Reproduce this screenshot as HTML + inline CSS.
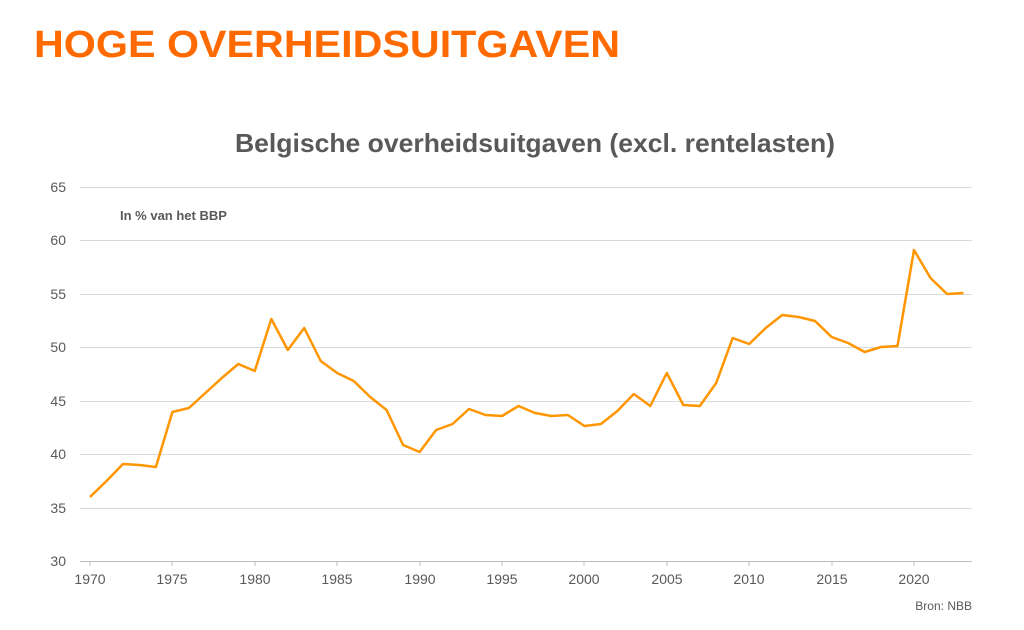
<!DOCTYPE html>
<html><head><meta charset="utf-8"><style>
body{margin:0;background:#fff;width:1024px;height:625px;overflow:hidden;font-family:"Liberation Sans",sans-serif}
</style></head><body>
<svg width="1024" height="625" xmlns="http://www.w3.org/2000/svg" font-family="Liberation Sans, sans-serif">
<text x="34" y="57" font-size="38" font-weight="bold" fill="#ff6a00" textLength="586" lengthAdjust="spacingAndGlyphs">HOGE OVERHEIDSUITGAVEN</text>
<text x="535" y="152" font-size="26" font-weight="bold" fill="#595959" text-anchor="middle" textLength="600" lengthAdjust="spacingAndGlyphs">Belgische overheidsuitgaven (excl. rentelasten)</text>
<text x="120" y="220" font-size="13" font-weight="bold" fill="#595959">In % van het BBP</text>
<g stroke="#d9d9d9" stroke-width="1">
<line x1="80" x2="972" y1="187.5" y2="187.5"/><line x1="80" x2="972" y1="240.5" y2="240.5"/>
<line x1="80" x2="972" y1="294.5" y2="294.5"/><line x1="80" x2="972" y1="347.5" y2="347.5"/>
<line x1="80" x2="972" y1="401.5" y2="401.5"/><line x1="80" x2="972" y1="454.5" y2="454.5"/>
<line x1="80" x2="972" y1="508.5" y2="508.5"/>
</g>
<line x1="80" x2="972" y1="561.5" y2="561.5" stroke="#bfbfbf"/>
<g stroke="#bfbfbf"><line x1="90" x2="90" y1="561" y2="566"/><line x1="172" x2="172" y1="561" y2="566"/><line x1="255" x2="255" y1="561" y2="566"/><line x1="337" x2="337" y1="561" y2="566"/><line x1="420" x2="420" y1="561" y2="566"/><line x1="502" x2="502" y1="561" y2="566"/><line x1="584" x2="584" y1="561" y2="566"/><line x1="667" x2="667" y1="561" y2="566"/><line x1="749" x2="749" y1="561" y2="566"/><line x1="832" x2="832" y1="561" y2="566"/><line x1="914" x2="914" y1="561" y2="566"/></g>
<g font-size="14" fill="#595959" text-anchor="end">
<text x="66" y="192">65</text><text x="66" y="245">60</text><text x="66" y="299">55</text><text x="66" y="352">50</text><text x="66" y="406">45</text><text x="66" y="459">40</text><text x="66" y="513">35</text><text x="66" y="566">30</text>
</g>
<g font-size="14" fill="#595959" text-anchor="middle">
<text x="90" y="584">1970</text><text x="172" y="584">1975</text><text x="255" y="584">1980</text><text x="337" y="584">1985</text><text x="420" y="584">1990</text><text x="502" y="584">1995</text><text x="584" y="584">2000</text><text x="667" y="584">2005</text><text x="749" y="584">2010</text><text x="832" y="584">2015</text><text x="914" y="584">2020</text>
</g>
<text x="972" y="610" font-size="12" fill="#595959" text-anchor="end">Bron: NBB</text>
<polyline fill="none" stroke="#ff9600" stroke-width="2.5" stroke-linejoin="round" points="
90,497 106.5,481 123,464 139.4,465 155.9,467 172.4,412 188.9,408 205.4,393 221.8,378 238.3,364 254.8,371 271.3,319 287.8,350 304.2,328 320.7,361 337.2,373 353.7,381 370.2,397 386.6,410 403.1,445 419.6,452 436.1,430 452.6,424 469,409 485.5,415 502,416 518.5,406 535,413 551.4,416 567.9,415 584.4,426 600.9,424 617.4,411 633.8,394 650.3,406 666.8,373 683.3,405 699.8,406 716.2,383 732.7,338 749.2,344 765.7,328 782.2,315 798.6,317 815.1,321 831.6,337 848.1,343 864.6,352 881,347 897.5,346 914,250 930.5,278 947,294 963.4,293"/>
</svg>
</body></html>
